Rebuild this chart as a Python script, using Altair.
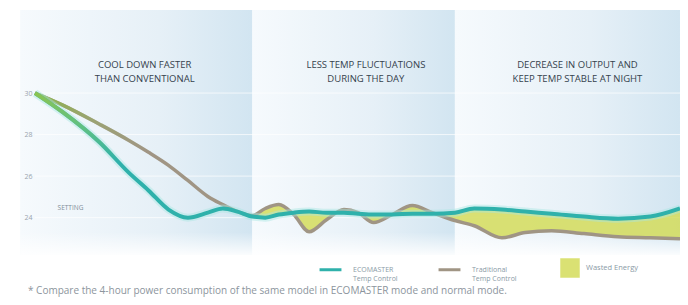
import altair as alt
import pandas as pd

# time positions (0-100 across the chart) and temperatures (°C)
t = [0, 4.3, 10.0, 14.5, 17.6, 20.7, 23.7, 26.8, 29.1, 31.4, 33.7, 35.7, 37.8, 40.1, 42.5,
     45.2, 47.9, 50.1, 52.5, 55.4, 58.5, 61.6, 65.1, 68.1, 72.4, 76.0, 80.1, 85.1, 90.4, 95.4, 100]
eco = [30.0, 29.08, 27.63, 26.18, 25.31, 24.39, 24.00, 24.24, 24.44, 24.29, 24.05, 24.00, 24.15,
       24.24, 24.29, 24.24, 24.24, 24.19, 24.15, 24.15, 24.19, 24.19, 24.24, 24.44, 24.39, 24.29,
       24.19, 24.05, 23.95, 24.05, 24.44]
trad = [30.0, 29.42, 28.50, 27.73, 27.15, 26.52, 25.79, 25.02, 24.63, 24.29, 24.10, 24.44, 24.63,
        24.15, 23.32, 23.90, 24.39, 24.24, 23.76, 24.15, 24.58, 24.24, 23.86, 23.61, 23.03, 23.28,
        23.37, 23.23, 23.08, 23.03, 22.98]

series_names = ["ECOMASTER|Temp Control", "Traditional|Temp Control"]
series_colors = ["#2fb1ab", "#a09584"]
wasted_name = "Wasted Energy"
wasted_color = "#d3dc5a"
wasted_start = 33.7

sec_start = [-2.3, 33.7, 65.1]
sec_end = [33.7, 65.1, 100]
sec_titles = ["COOL DOWN FASTER|THAN CONVENTIONAL",
              "LESS TEMP FLUCTUATIONS|DURING THE DAY",
              "DECREASE IN OUTPUT AND|KEEP TEMP STABLE AT NIGHT"]
title_t = [17.0, 51.3, 84.1]
title_temp = 31.36

y_ticks = [24, 26, 28, 30]
y_min, y_max = 22.2, 34.0
setting_label = "SETTING"
setting_t, setting_temp = 5.5, 24.44
footnote = "* Compare the 4-hour power consumption of the same model in ECOMASTER mode and normal mode."

df = pd.DataFrame({"t": t, "eco": eco, "trad": trad})
eco_df = pd.DataFrame({"t": t, "temp": eco, "series": series_names[0]})
trad_df = pd.DataFrame({"t": t, "temp": trad, "series": series_names[1]})
area_df = df[df["t"] >= wasted_start].copy()
area_df["kind"] = wasted_name
sec_df = pd.DataFrame({"start": sec_start, "end": sec_end})
titles_df = pd.DataFrame({"t": title_t, "temp": [title_temp] * 3, "text": sec_titles})
ticks_df = pd.DataFrame({"v": y_ticks})
setting_df = pd.DataFrame({"t": [setting_t], "temp": [setting_temp], "text": [setting_label]})

xs = alt.Scale(domain=[0, 100], zero=False)
ys = alt.Scale(domain=[y_min, y_max], zero=False)
yaxis = alt.Axis(values=y_ticks, domain=False, ticks=False, grid=False, title=None, zindex=2,
                 labelColor="#9aa4ae", labelFontSize=7, labelPadding=3)


def X(f):
    return alt.X(f, scale=xs, axis=None)


def Y(f):
    return alt.Y(f, scale=ys, axis=yaxis)


sec_grad = alt.Gradient(gradient="linear", x1=0, x2=1, y1=0, y2=0,
                        stops=[alt.GradientStop(color="#f6fafd", offset=0),
                               alt.GradientStop(color="#e6f0f7", offset=0.6),
                               alt.GradientStop(color="#d2e5f1", offset=1)])
bg = alt.Chart(sec_df).mark_rect(color=sec_grad).encode(
    x=X("start:Q"), x2="end:Q",
    y=alt.YDatum(y_max, scale=ys, axis=yaxis), y2=alt.datum(y_min))

fade_grad = alt.Gradient(gradient="linear", x1=0, x2=0, y1=0, y2=1,
                         stops=[alt.GradientStop(color="rgba(255,255,255,0)", offset=0),
                                alt.GradientStop(color="rgba(255,255,255,0.9)", offset=1)])
fade = alt.Chart(pd.DataFrame({"a": [sec_start[0]], "b": [sec_end[-1]]})).mark_rect(
    color=fade_grad).encode(x=X("a:Q"), x2="b:Q",
                            y=alt.YDatum(23.3, scale=ys, axis=yaxis), y2=alt.datum(y_min))

grid = alt.Chart(ticks_df).mark_rule(color="white", strokeWidth=1, opacity=0.7).encode(
    y=Y("v:Q"))

titles = alt.Chart(titles_df).mark_text(lineBreak="|", fontSize=9.5, color="#35424d",
                                        lineHeight=14, baseline="middle",
                                        align="center").encode(x=X("t:Q"), y=Y("temp:Q"),
                                                               text="text:N")

setting = alt.Chart(setting_df).mark_text(fontSize=6.5, color="#7f8e9a", align="center").encode(
    x=X("t:Q"), y=Y("temp:Q"), text="text:N")

area = alt.Chart(area_df).mark_area(interpolate="monotone", opacity=0.85).encode(
    x=X("t:Q"), y=Y("trad:Q"), y2="eco:Q",
    fill=alt.Fill("kind:N", scale=alt.Scale(domain=[wasted_name], range=[wasted_color]),
                  legend=alt.Legend(orient="none", legendX=525, legendY=248, title=None,
                                    symbolType="square", symbolSize=380, symbolStrokeWidth=0,
                                    labelFontSize=7.5, labelColor="#8a9aa6", labelOffset=6)))

stroke_enc = alt.Stroke("series:N", scale=alt.Scale(domain=series_names, range=series_colors),
                        legend=alt.Legend(orient="none", legendX=283, legendY=247, title=None,
                                          direction="horizontal", symbolType="stroke",
                                          symbolStrokeWidth=3, symbolSize=480,
                                          labelFontSize=7, labelColor="#8a9aa6",
                                          labelExpr="split(datum.label, '|')",
                                          labelOffset=10, columnPadding=34, labelLimit=0))

trad_line = alt.Chart(trad_df).mark_line(strokeWidth=3.5, interpolate="monotone").encode(
    x=X("t:Q"), y=Y("temp:Q"), stroke=stroke_enc)
eco_halo = alt.Chart(eco_df).mark_line(strokeWidth=8, interpolate="monotone",
                                       color="#a8e6e2", opacity=0.45).encode(x=X("t:Q"),
                                                                             y=Y("temp:Q"))
eco_line = alt.Chart(eco_df).mark_line(strokeWidth=4, interpolate="monotone").encode(
    x=X("t:Q"), y=Y("temp:Q"), stroke=stroke_enc)

green_eco = alt.Gradient(gradient="linear", x1=0, x2=0, y1=0, y2=1,
                         stops=[alt.GradientStop(color="rgba(140,196,80,1)", offset=0),
                                alt.GradientStop(color="rgba(120,200,110,0.6)", offset=0.3),
                                alt.GradientStop(color="rgba(120,200,110,0)", offset=0.55)])
green_trad = alt.Gradient(gradient="linear", x1=0, x2=0, y1=0, y2=1,
                          stops=[alt.GradientStop(color="rgba(140,180,70,1)", offset=0),
                                 alt.GradientStop(color="rgba(150,175,100,0.5)", offset=0.2),
                                 alt.GradientStop(color="rgba(150,175,100,0)", offset=0.4)])
trad_green = alt.Chart(trad_df).mark_line(strokeWidth=3.5, interpolate="monotone",
                                          color=green_trad).encode(x=X("t:Q"), y=Y("temp:Q"))
eco_green = alt.Chart(eco_df).mark_line(strokeWidth=4, interpolate="monotone",
                                        color=green_eco).encode(x=X("t:Q"), y=Y("temp:Q"))

chart = alt.layer(
    bg, fade, grid, titles, setting, area, trad_line, trad_green, eco_halo, eco_line, eco_green
).properties(
    width=645, height=245,
    padding={"left": 27, "top": 2, "right": 0, "bottom": 42},
    autosize=alt.AutoSizeParams(type="none"),
    title=alt.TitleParams(footnote, orient="bottom", anchor="start", frame="group", offset=4,
                          dx=-7, baseline="top", fontSize=10, fontWeight="normal",
                          color="#8c959d"),
).configure(font="Open Sans", background="white").configure_view(stroke=None)

chart.save("out.html", embed_options={"renderer": "svg", "actions": False})
